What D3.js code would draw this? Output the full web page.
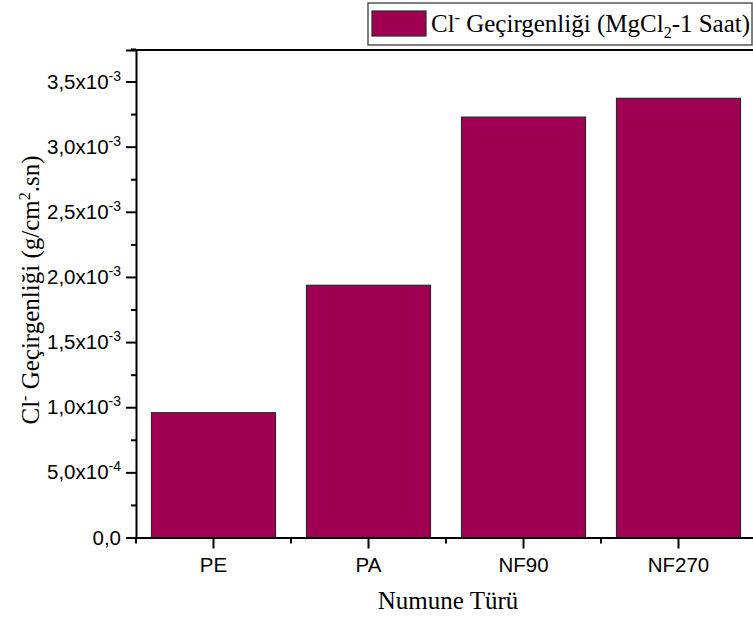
<!DOCTYPE html>
<html>
<head>
<meta charset="utf-8">
<script src="https://cdn.jsdelivr.net/npm/d3@7"></script>
<style>
  body { margin: 0; background: #fff; }
  svg { display: block; }
  .tickLab { font-family: "Liberation Sans", Arial, sans-serif; font-size: 20.5px; fill: #000; }
  .serif { font-family: "Liberation Serif", "Times New Roman", serif; font-size: 25px; fill: #000; }
</style>
</head>
<body>
<div id="chart"></div>
<script>
// Datos de la grafica
var categories = ["PE", "PA", "NF90", "NF270"];
var values = [0.958e-3, 1.936e-3, 3.227e-3, 3.371e-3];
var yTicks = [0, 0.5e-3, 1.0e-3, 1.5e-3, 2.0e-3, 2.5e-3, 3.0e-3, 3.5e-3];
var yMinorTicks = [0.25e-3, 0.75e-3, 1.25e-3, 1.75e-3, 2.25e-3, 2.75e-3, 3.25e-3, 3.75e-3];
var yMax = 3.742e-3;

var width = 753;
var height = 619;

// area de la grafica
var plotLeft = 136;
var plotRight = 756;
var plotTop = 50;
var plotBottom = 537.5;

var barColor = "#A10052";

var svg = d3.select("#chart")
  .append("svg")
  .attr("width", width)
  .attr("height", height);

// escalas
var xScale = d3.scaleBand()
  .domain(categories)
  .range([plotLeft, plotRight])
  .paddingInner(0.2)
  .paddingOuter(0.1);

var yScale = d3.scaleLinear()
  .domain([0, yMax])
  .range([plotBottom, plotTop]);

// barras
svg.selectAll(".bar")
  .data(values)
  .enter()
  .append("rect")
  .attr("class", "bar")
  .attr("x", function(d, i) { return xScale(categories[i]); })
  .attr("y", function(d) { return yScale(d); })
  .attr("width", xScale.bandwidth())
  .attr("height", function(d) { return yScale(0) - yScale(d); })
  .attr("fill", barColor)
  .attr("stroke", "#2a2a2a")
  .attr("stroke-width", 1.2);

// eje Y (ticks mayores)
var yAxis = d3.axisLeft(yScale)
  .tickValues(yTicks)
  .tickSize(10)
  .tickFormat("");

var gY = svg.append("g")
  .attr("transform", "translate(" + plotLeft + ",0)")
  .call(yAxis);

// ticks menores Y
svg.append("g")
  .attr("transform", "translate(" + plotLeft + ",0)")
  .call(d3.axisLeft(yScale).tickValues(yMinorTicks).tickSize(5).tickFormat(""))
  .call(function(g) { g.select(".domain").remove(); });

gY.selectAll("line, path").attr("stroke", "#000").attr("stroke-width", 2);
svg.selectAll("g line").attr("stroke", "#000").attr("stroke-width", 2);

// etiquetas del eje Y con superindice
function splitSci(v) {
  if (v === 0) return null;
  var e = Math.floor(Math.log10(v) + 1e-9);
  var m = v / Math.pow(10, e);
  return { m: m.toFixed(1).replace(".", ","), e: e };
}

var yLabels = svg.append("g");
yTicks.forEach(function(v) {
  var t = yLabels.append("text")
    .attr("class", "tickLab")
    .attr("x", 121)
    .attr("y", yScale(v) + 7)
    .attr("text-anchor", "end");
  var s = splitSci(v);
  if (!s) {
    t.text("0,0");
  } else {
    t.append("tspan").text(s.m + "x10");
    t.append("tspan").attr("dy", -8).attr("font-size", 14).text(s.e);
  }
});

// eje X
var xAxis = d3.axisBottom(xScale).tickSize(11).tickSizeOuter(0);
var gX = svg.append("g")
  .attr("transform", "translate(0," + plotBottom + ")")
  .call(xAxis);
gX.selectAll("text")
  .attr("class", "tickLab")
  .attr("font-size", null)
  .attr("font-family", null)
  .attr("dy", null)
  .attr("y", 34);
gX.attr("font-size", null).attr("font-family", null);
gX.selectAll("line, path").attr("stroke", "#000").attr("stroke-width", 2);

// ticks menores X (entre categorias)
var step = xScale.step();
var xMinor = [];
categories.forEach(function(c) { xMinor.push(xScale(c) + xScale.bandwidth() / 2 - step / 2); });
svg.append("g")
  .selectAll("line")
  .data(xMinor)
  .enter()
  .append("line")
  .attr("x1", function(d) { return d; })
  .attr("x2", function(d) { return d; })
  .attr("y1", plotBottom)
  .attr("y2", plotBottom + 6)
  .attr("stroke", "#000")
  .attr("stroke-width", 2);

// marco superior
svg.append("line")
  .attr("x1", plotLeft - 1)
  .attr("x2", plotRight)
  .attr("y1", plotTop)
  .attr("y2", plotTop)
  .attr("stroke", "#000")
  .attr("stroke-width", 2);

// titulo eje X
svg.append("text")
  .attr("class", "serif")
  .attr("x", 448)
  .attr("y", 609)
  .attr("text-anchor", "middle")
  .text("Numune Türü");

// titulo eje Y
var yTitle = svg.append("text")
  .attr("class", "serif")
  .attr("text-anchor", "middle")
  .attr("transform", "translate(39,290)rotate(-90)");
yTitle.append("tspan").text("Cl");
yTitle.append("tspan").attr("dy", -9).attr("font-size", 16).text("-");
yTitle.append("tspan").attr("dy", 9).text(" Geçirgenliği (g/cm");
yTitle.append("tspan").attr("dy", -9).attr("font-size", 16).text("2");
yTitle.append("tspan").attr("dy", 9).text(".sn)");

// leyenda
var legend = svg.append("g");
legend.append("rect")
  .attr("x", 368)
  .attr("y", 3)
  .attr("width", 384)
  .attr("height", 42)
  .attr("fill", "#fff")
  .attr("stroke", "#555")
  .attr("stroke-width", 1.5);
legend.append("rect")
  .attr("x", 372)
  .attr("y", 11)
  .attr("width", 54)
  .attr("height", 25)
  .attr("fill", barColor)
  .attr("stroke", "#2a2a2a")
  .attr("stroke-width", 1.2);
var legText = legend.append("text")
  .attr("class", "serif")
  .attr("x", 431)
  .attr("y", 32);
legText.append("tspan").text("Cl");
legText.append("tspan").attr("dy", -9).attr("font-size", 16).text("-");
legText.append("tspan").attr("dy", 9).text(" Geçirgenliği (MgCl");
legText.append("tspan").attr("dy", 6).attr("font-size", 16).text("2");
legText.append("tspan").attr("dy", -6).text("-1 Saat)");
</script>
</body>
</html>
